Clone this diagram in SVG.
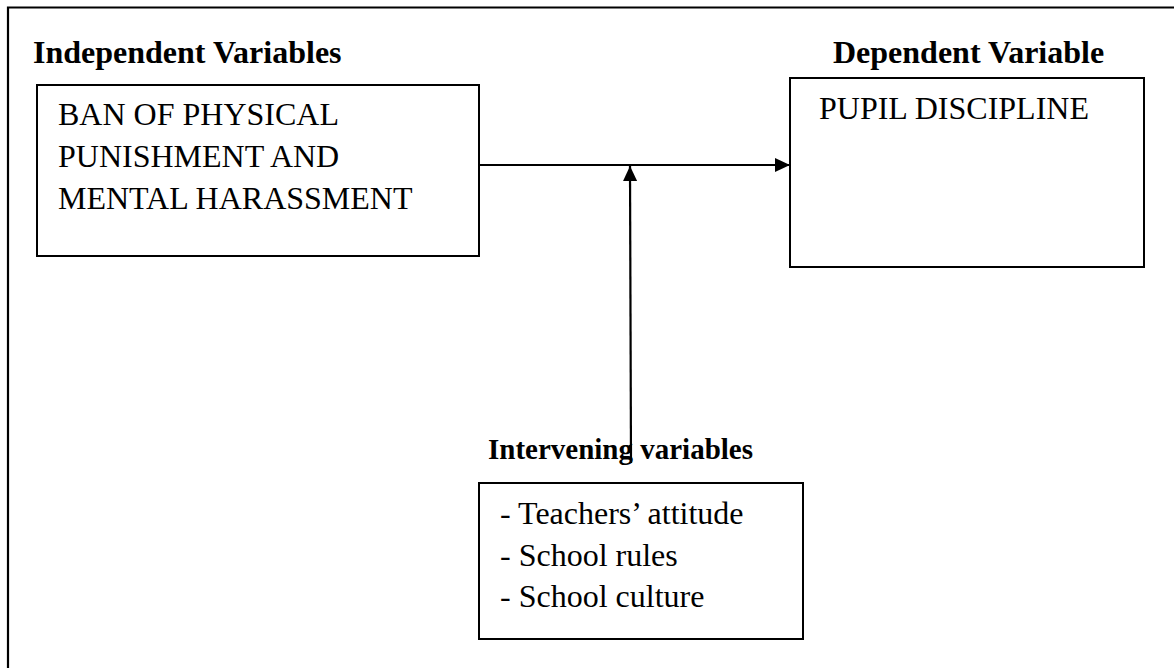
<svg xmlns="http://www.w3.org/2000/svg" width="1174" height="668" viewBox="0 0 1174 668">
  <style>
    .box { fill: #ffffff; stroke: #000000; stroke-width: 2; }
    .frame { fill: none; stroke: #000000; stroke-width: 2.2; }
    .head { font-family: "Liberation Serif", "Times New Roman", serif; font-weight: bold; font-size: 32px; fill: #000000; }
    .body { font-family: "Liberation Serif", "Times New Roman", serif; font-size: 32px; fill: #000000; }
    .link { fill: none; stroke: #000000; stroke-width: 2.2; }
  </style>
  <defs>
    <marker id="arrow" markerWidth="15" markerHeight="14" refX="15" refY="7" orient="auto" markerUnits="userSpaceOnUse">
      <path d="M0,0 L15,7 L0,14 Z" fill="#000000"/>
    </marker>
  </defs>

  <rect width="1174" height="668" fill="#ffffff"/>

  <!-- outer frame (open on the right and bottom) -->
  <path class="frame" d="M8,668 V7.5 H1174"/>

  <!-- section headings -->
  <text class="head" x="33" y="63">Independent Variables</text>
  <text class="head" x="833" y="63">Dependent Variable</text>

  <g id="connectors">
    <line class="link" x1="479" y1="165" x2="790" y2="165" marker-end="url(#arrow)"/>
    <line class="link" x1="631" y1="463" x2="630" y2="166" marker-end="url(#arrow)"/>
  </g>

  <g id="node-independent">
    <rect class="box" x="37" y="85" width="442" height="171"/>
    <text class="body" x="58" y="125">BAN OF PHYSICAL</text>
    <text class="body" x="58" y="167">PUNISHMENT AND</text>
    <text class="body" x="58" y="209">MENTAL HARASSMENT</text>
  </g>

  <g id="node-dependent">
    <rect class="box" x="790" y="78" width="354" height="189"/>
    <text class="body" x="819" y="119">PUPIL DISCIPLINE</text>
  </g>

  <g id="node-intervening">
    <text class="head" x="488" y="459" style="font-size:29px">Intervening variables</text>
    <rect class="box" x="479" y="483" width="324" height="156"/>
    <text class="body" x="500" y="524">- Teachers’ attitude</text>
    <text class="body" x="500" y="566">- School rules</text>
    <text class="body" x="500" y="607">- School culture</text>
  </g>
</svg>
